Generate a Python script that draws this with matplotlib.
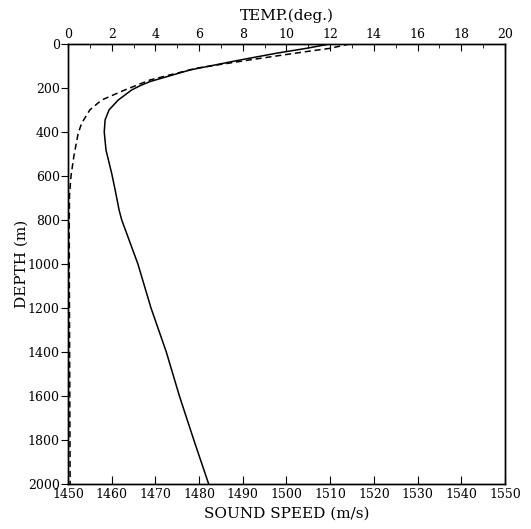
import matplotlib
matplotlib.use("Agg")
import matplotlib.pyplot as plt
from matplotlib.ticker import MultipleLocator

# Sound speed profile (solid)
ss_depth = [0, 20, 42, 73, 118, 171, 190, 209, 255, 300, 345, 400, 482, 588,
            664, 755, 800, 1000, 1200, 1400, 1600, 1800, 2000]
ss_speed = [1510, 1504.6, 1497.8, 1489.4, 1478.0, 1468.8, 1466.5, 1464.6,
            1461.5, 1459.4, 1458.5, 1458.3, 1458.7, 1460.0, 1460.8, 1461.7,
            1462.3, 1466.0, 1469.0, 1472.5, 1475.5, 1478.8, 1482.2]

# Temperature profile (dashed)
t_depth = [0, 20, 35, 73, 110, 164, 209, 255, 300, 360, 405, 510, 600, 690,
           800, 1000, 1500, 2000]
t_temp = [12.9, 12.0, 10.9, 8.3, 5.9, 3.75, 2.61, 1.54, 1.0, 0.63, 0.47, 0.27,
          0.14, 0.07, 0.06, 0.06, 0.08, 0.1]

depth_ticks = [0, 200, 400, 600, 800, 1000, 1200, 1400, 1600, 1800, 2000]
speed_ticks = list(range(1450, 1551, 10))
temp_ticks = list(range(0, 21, 2))

plt.rcParams['font.family'] = ['DejaVu Serif']

fig = plt.figure(figsize=(5.31, 5.29), dpi=100)
ax = fig.add_axes([0.128, 0.085, 0.823, 0.832])

ax.plot(ss_speed, ss_depth, color='black', linewidth=1.1)
ax.set_xlim(1450, 1550)
ax.set_ylim(2000, 0)
ax.set_xticks(speed_ticks)
ax.set_yticks(depth_ticks)
ax.tick_params(axis='x', direction='in', length=6, labelsize=9, top=False, pad=3)
ax.tick_params(axis='y', direction='out', length=5, labelsize=9, right=False, pad=1)
ax.set_xlabel('SOUND SPEED (m/s)', fontsize=11, labelpad=4)
ax.set_ylabel('DEPTH (m)', fontsize=11, labelpad=-1)

# Temperature on the top axis
ax2 = ax.twiny()
ax2.plot(t_temp, t_depth, color='black', linewidth=1.1, linestyle=(0, (4, 2.5)))
ax2.set_xlim(0, 20)
ax2.set_xticks(temp_ticks)
ax2.xaxis.set_minor_locator(MultipleLocator(1))
ax2.tick_params(axis='x', which='major', direction='in', length=5, labelsize=9, pad=2)
ax2.tick_params(axis='x', which='minor', direction='in', length=3)
ax2.set_xlabel('TEMP.(deg.)', fontsize=11, labelpad=6)

for a in (ax, ax2):
    for s in a.spines.values():
        s.set_linewidth(1.0)

fig.savefig("out.png", dpi=100)
